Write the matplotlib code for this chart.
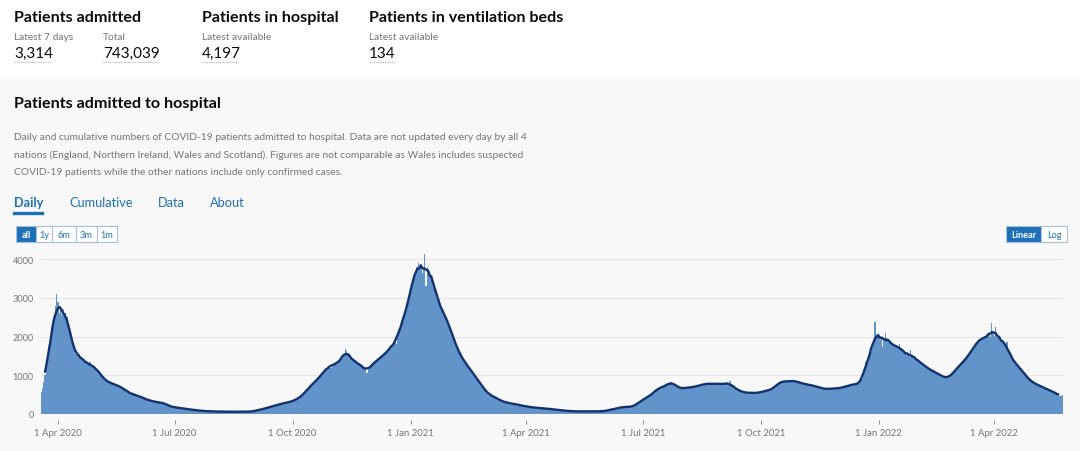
import matplotlib
matplotlib.use("Agg")
import matplotlib.pyplot as plt
from matplotlib.patches import Rectangle
import pandas as pd

# ---------------- data ----------------
start_date = "2020-03-19"
daily_admissions = [
    580, 660, 820, 1010, 1300, 1520, 1750,
    1800, 2000, 2150, 2400, 2800, 3100, 2900,
    2600, 2700, 2550, 2700, 2600, 2600, 2500,
    2350, 2200, 2000, 1850, 1700, 1650, 1550,
    1500, 1480, 1550, 1450, 1400, 1380, 1350,
    1320, 1300, 1280, 1330, 1250, 1220, 1200,
    1210, 1170, 1120, 1080, 1030, 990, 950,
    900, 870, 850, 830, 820, 800, 790,
    780, 760, 750, 740, 730, 720, 700,
    680, 650, 630, 600, 580, 560, 540,
    530, 510, 500, 495, 490, 480, 470,
    450, 430, 420, 405, 390, 380, 370,
    350, 340, 335, 330, 320, 315, 310,
    300, 295, 290, 290, 285, 280, 270,
    240, 210, 200, 195, 185, 180, 175,
    170, 165, 160, 155, 150, 145, 140,
    135, 130, 125, 120, 118, 115, 110,
    105, 100, 95, 92, 90, 86, 82,
    80, 78, 75, 74, 72, 70, 68,
    68, 66, 65, 66, 64, 63, 62,
    60, 62, 58, 61, 60, 59, 60,
    58, 61, 60, 62, 59, 60, 58,
    60, 59, 62, 60, 58, 61, 60,
    59, 61, 60, 62, 66, 74, 84,
    92, 100, 108, 115, 122, 130, 138,
    148, 158, 168, 176, 185, 195, 205,
    215, 225, 235, 245, 255, 262, 270,
    280, 285, 290, 295, 300, 310, 320,
    335, 350, 365, 380, 395, 415, 435,
    470, 500, 535, 570, 610, 650, 690,
    730, 760, 790, 815, 850, 880, 910,
    960, 1000, 1040, 1080, 1120, 1150, 1190,
    1230, 1250, 1180, 1300, 1280, 1310, 1300,
    1310, 1340, 1380, 1420, 1460, 1560, 1690,
    1620, 1540, 1500, 1460, 1430, 1400, 1350,
    1330, 1350, 1300, 1280, 1250, 1230, 1200,
    1190, 1160, 1060, 1170, 1210, 1250, 1280,
    1300, 1330, 1360, 1390, 1410, 1440, 1470,
    1500, 1530, 1560, 1590, 1620, 1650, 1690,
    1750, 1800, 1850, 1900, 1800, 2000, 2200,
    2250, 2350, 2450, 2500, 2600, 2750, 2900,
    3050, 3200, 3350, 3500, 3600, 3700, 3800,
    3900, 3750, 3850, 3650, 3800, 4120, 3300,
    3800, 3750, 3650, 3550, 3500, 3400, 3250,
    3000, 2950, 2900, 2800, 2700, 2650, 2600,
    2500, 2450, 2380, 2300, 2200, 2100, 2000,
    1900, 1800, 1720, 1650, 1580, 1520, 1460,
    1400, 1350, 1300, 1260, 1220, 1180, 1130,
    1080, 1030, 980, 930, 890, 850, 810,
    760, 710, 660, 620, 580, 540, 500,
    500, 480, 460, 445, 425, 405, 390,
    370, 350, 335, 325, 315, 300, 290,
    285, 280, 275, 270, 265, 260, 255,
    240, 235, 228, 222, 215, 210, 205,
    198, 192, 186, 180, 175, 170, 166,
    165, 162, 160, 158, 155, 152, 150,
    145, 140, 138, 135, 132, 128, 125,
    122, 118, 114, 110, 106, 102, 98,
    94, 90, 87, 84, 81, 78, 76,
    74, 72, 70, 69, 68, 67, 66,
    68, 66, 70, 67, 69, 71, 68,
    67, 70, 68, 66, 72, 69, 70,
    67, 69, 68, 70, 72, 76, 82,
    88, 95, 102, 110, 118, 126, 134,
    142, 150, 158, 165, 172, 176, 178,
    180, 182, 184, 185, 186, 188, 190,
    205, 225, 248, 270, 295, 320, 345,
    370, 390, 405, 420, 440, 460, 485,
    510, 540, 570, 600, 630, 660, 690,
    670, 690, 705, 720, 740, 760, 780,
    800, 820, 800, 780, 760, 730, 700,
    680, 670, 665, 660, 665, 670, 675,
    680, 685, 690, 690, 695, 700, 705,
    715, 725, 735, 745, 755, 765, 775,
    780, 775, 790, 770, 780, 785, 775,
    770, 790, 780, 775, 785, 770, 780,
    785, 775, 790, 780, 770, 850, 730,
    710, 690, 670, 650, 630, 610, 590,
    575, 565, 560, 555, 550, 548, 545,
    545, 540, 545, 550, 540, 545, 550,
    555, 560, 570, 580, 590, 600, 610,
    610, 620, 630, 645, 665, 700, 740,
    770, 800, 820, 830, 840, 840, 845,
    840, 850, 830, 860, 840, 870, 850,
    860, 840, 820, 810, 800, 790, 780,
    775, 770, 765, 760, 755, 750, 740,
    730, 720, 710, 700, 690, 680, 670,
    660, 655, 650, 645, 645, 648, 650,
    652, 655, 658, 660, 662, 664, 666,
    670, 680, 690, 700, 710, 720, 730,
    740, 750, 755, 760, 765, 770, 775,
    780, 800, 830, 900, 1000, 1150, 1330,
    1380, 1450, 1520, 1600, 1700, 1820, 2370,
    1950, 2050, 2100, 1900, 2000, 1720, 1950,
    2080, 1950, 1900, 1850, 1880, 1800, 1760,
    1780, 1750, 1720, 1700, 1800, 1680, 1650,
    1620, 1580, 1560, 1520, 1540, 1480, 1650,
    1460, 1440, 1480, 1410, 1390, 1370, 1350,
    1320, 1290, 1260, 1240, 1210, 1190, 1170,
    1150, 1130, 1110, 1090, 1070, 1060, 1050,
    1030, 1000, 980, 960, 950, 940, 935,
    940, 960, 990, 1020, 1060, 1100, 1140,
    1180, 1220, 1260, 1290, 1320, 1350, 1380,
    1420, 1470, 1520, 1570, 1620, 1670, 1720,
    1770, 1820, 1860, 1900, 1930, 1950, 1980,
    1950, 1970, 1990, 2000, 2080, 2000, 2350,
    2080, 2020, 2250, 2000, 1980, 1960, 1920,
    1900, 1850, 1800, 1760, 1850, 1620, 1530,
    1480, 1420, 1380, 1340, 1300, 1260, 1220,
    1180, 1140, 1100, 1060, 1020, 980, 940,
    900, 870, 840, 820, 800, 780, 770,
    750, 735, 720, 705, 690, 675, 660,
    645, 630, 615, 600, 585, 570, 555,
    540, 520, 500, 470, 455, 490,
]

y_ticks = [0, 1000, 2000, 3000, 4000]
x_tick_dates = ["2020-04-01", "2020-07-01", "2020-10-01", "2021-01-01", "2021-04-01",
                "2021-07-01", "2021-10-01", "2022-01-01", "2022-04-01"]
x_tick_labels = ["1 Apr 2020", "1 Jul 2020", "1 Oct 2020", "1 Jan 2021", "1 Apr 2021",
                 "1 Jul 2021", "1 Oct 2021", "1 Jan 2022", "1 Apr 2022"]

headline_titles = ["Patients admitted", "Patients in hospital", "Patients in ventilation beds"]
headline_sub = [("Latest 7 days", "3,314"), ("Total", "743,039"),
                ("Latest available", "4,197"), ("Latest available", "134")]

description = [
    "Daily and cumulative numbers of COVID-19 patients admitted to hospital. Data are not updated every day by all 4",
    "nations (England, Northern Ireland, Wales and Scotland). Figures are not comparable as Wales includes suspected",
    "COVID-19 patients while the other nations include only confirmed cases.",
]
tabs = ["Daily", "Cumulative", "Data", "About"]
range_buttons = ["all", "1y", "6m", "3m", "1m"]
scale_buttons = ["Linear", "Log"]

# ---------------- figure ----------------
W, H = 1080, 452
FONT = ["Lato", "DejaVu Sans"]
plt.rcParams["font.family"] = FONT

fig = plt.figure(figsize=(W / 100, H / 100), dpi=100)
fig.patch.set_facecolor("white")


def fx(x):
    return x / W


def fy(y):
    return 1 - y / H


BLUE = "#1d70b8"
GREY = "#6f777b"
DARK = "#0b0c0c"

# gray panel (behind everything)
fig.patches.append(Rectangle((0, 0), 1, fy(80), transform=fig.transFigure,
                             facecolor="#f8f8f8", edgecolor="none", zorder=-10))

# headline section
title_x = [14, 202, 369]
for t, x in zip(headline_titles, title_x):
    fig.text(fx(x), fy(18), t, fontsize=11.6, fontweight="bold", color=DARK,
             va="center", ha="left")
sub_x = [14, 103, 202, 369]
for (lab, val), x in zip(headline_sub, sub_x):
    fig.text(fx(x), fy(38), lab, fontsize=7.4, color=GREY, va="center", ha="left")
    fig.text(fx(x), fy(53.5), val, fontsize=11.0, color=DARK, va="center", ha="left")

val_widths = [36, 56, 36, 25]
for x, w in zip(sub_x, val_widths):
    fig.lines.append(plt.Line2D([fx(x), fx(x + w)], [fy(63), fy(63)],
                                transform=fig.transFigure, color="#b1b4b6",
                                linewidth=0.8, linestyle=(0, (1, 1))))

# card title & description
fig.text(fx(14), fy(104), "Patients admitted to hospital", fontsize=11.6,
         fontweight="bold", color=DARK, va="center", ha="left")
for i, line in enumerate(description):
    fig.text(fx(14), fy(137 + 17.8 * i), line, fontsize=7.4, color=GREY,
             va="center", ha="left")

# tabs
tab_x = [14, 69, 158, 210]
for t, x in zip(tabs, tab_x):
    fig.text(fx(x), fy(203), t, fontsize=9.2, color=BLUE, va="center", ha="left",
             fontweight="bold" if t == "Daily" else "normal")
fig.lines.append(plt.Line2D([fx(14), fx(42)], [fy(214), fy(214)],
                            transform=fig.transFigure, color=BLUE, linewidth=2.4))


def button_group(labels, edges, selected, y0, y1):
    for i, lab in enumerate(labels):
        x0, x1 = edges[i], edges[i + 1]
        fc = BLUE if i == selected else "white"
        fig.patches.append(Rectangle((fx(x0), fy(y1)), fx(x1) - fx(x0), fy(y0) - fy(y1),
                                     transform=fig.transFigure, facecolor=fc,
                                     edgecolor="#a7bfd8", linewidth=0.8, zorder=2))
        fig.text(fx((x0 + x1) / 2), fy((y0 + y1) / 2 + 0.5), lab, fontsize=6.6,
                 color="white" if i == selected else BLUE,
                 fontweight="bold" if i == selected else "normal",
                 ha="center", va="center", zorder=3)


button_group(range_buttons, [16, 36, 52, 76, 97, 117], 0, 227, 243)
button_group(scale_buttons, [1006, 1041, 1067], 0, 227, 243)

# ---------------- chart ----------------
dates = pd.date_range(start_date, periods=len(daily_admissions), freq="D")
series = pd.Series(daily_admissions, index=dates)
rolling = series.rolling(7, center=True).mean()

ax_l, ax_r, ax_t, ax_b = 40.6, 1062.8, 254, 415
ax = fig.add_axes([fx(ax_l), fy(ax_b), fx(ax_r) - fx(ax_l), fy(ax_t) - fy(ax_b)])
ax.set_zorder(5)
ax.patch.set_alpha(0)

ax.bar(dates, series.values, width=1.0, color="#6394c9", linewidth=0, zorder=2,
       antialiased=False)
ax.plot(rolling.index, rolling.values, color="#12336e", linewidth=1.7, zorder=3,
        solid_capstyle="round", solid_joinstyle="round")

ax.set_xlim(pd.Timestamp("2020-03-18 12:00"), pd.Timestamp("2022-05-24 12:00"))
ax.set_ylim(0, 4155)

ax.set_yticks(y_ticks)
ax.set_yticklabels([str(v) for v in y_ticks])
ax.yaxis.grid(True, color="#e6e6e6", linewidth=0.8, zorder=0)
ax.set_axisbelow(True)
ax.tick_params(axis="y", length=0, pad=5, labelsize=6.6, labelcolor=GREY)

ax.set_xticks([pd.Timestamp(d) for d in x_tick_dates])
ax.set_xticklabels(x_tick_labels)
ax.tick_params(axis="x", length=3.2, width=0.7, color="#8a8f92", pad=2.5,
               labelsize=6.9, labelcolor=GREY)

for s in ["top", "right", "left"]:
    ax.spines[s].set_visible(False)
ax.spines["bottom"].set_position(("outward", 4.5))
ax.spines["bottom"].set_visible(False)
ax.axhline(0, color="#7b8186", linewidth=0.9, zorder=4)

fig.savefig("out.png", dpi=100, facecolor=fig.get_facecolor())
